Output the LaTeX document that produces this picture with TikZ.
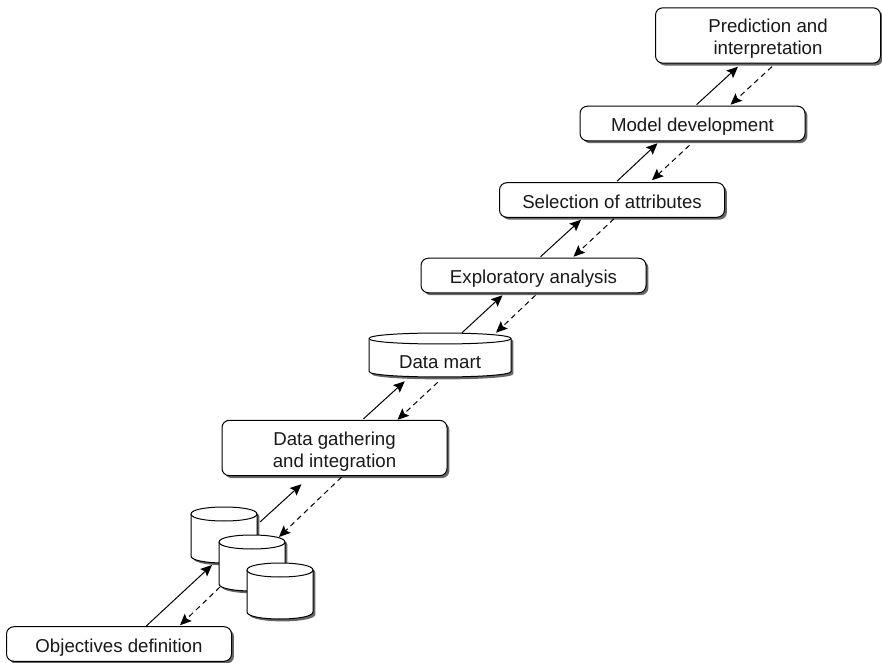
\documentclass[tikz,border=0pt]{standalone}
\usepackage{fontspec}
\setmainfont{Liberation Sans}
\usetikzlibrary{arrows.meta,shadows,calc}
\newcommand{\dn}[1]{\raisebox{-2.5pt}[10pt][3pt]{#1}}
% body outline of a cylinder: centre x, top y, bottom y, radii (all in picture units)
\newcommand{\bodypath}[5]{%
  (#1-#4,#2+#5) -- (#1-#4,#3-#5)
  .. controls (#1-#4,#3+#5*0.333) and (#1+#4,#3+#5*0.333) .. (#1+#4,#3-#5)
  -- (#1+#4,#2+#5)
  .. controls (#1+#4,#2-#5*0.333) and (#1-#4,#2-#5*0.333) .. cycle}
\newcommand{\storeshape}[5]{%
  \fill[black!60,shift={(2.4,2.4)}] \bodypath{#1}{#2}{#3}{#4}{#5};
  \draw[storeline] \bodypath{#1}{#2}{#3}{#4}{#5};
  \draw[storeline] (#1-#4,#2+#5)
  .. controls (#1-#4,#2+#5*2.333) and (#1+#4,#2+#5*2.333) .. (#1+#4,#2+#5);
}
\tikzset{
  x=0.75pt,y=-0.75pt,
  shade drop/.style={drop shadow={shadow xshift=1.8pt,shadow yshift=-1.8pt,fill=black!60,opacity=1}},
  labelfont/.style={font=\fontsize{14}{16.5}\selectfont,text=black!90},
  stagebox/.style={draw=black,line width=0.75pt,fill=white,rounded corners=5.5pt,shade drop,
    minimum width=168.75pt,inner sep=0pt,align=center,labelfont},
  low/.style={stagebox,minimum height=25.9pt},
  tall/.style={stagebox,minimum height=41.5pt},
  storeline/.style={draw=black,line width=0.75pt,fill=white},
  smallstore/.style={inner sep=0pt,minimum width=49.5pt,minimum height=42pt},
  forward/.style={line width=0.75pt,-{Stealth[length=8.5pt,width=7.5pt,inset=1.5pt]}},
  back/.style={forward,dash pattern=on 4pt off 3pt},
}
\begin{document}
\begin{tikzpicture}
\useasboundingbox (0,0) rectangle (882,663);
\node[low]  (obj)  at (119,644) {\dn{Objectives definition}};
\storeshape{224}{507}{563}{33}{7}
\node[smallstore] (c1) at (224,535) {};
\storeshape{252}{535}{591}{33}{7}
\node[smallstore] (c2) at (252,563) {};
\storeshape{280}{563}{619}{33}{7}
\node[smallstore] (c3) at (280,591) {};
\node[tall] (gath) at (334.5,448) {\dn{Data gathering}\\\dn{and integration}};
\storeshape{440}{333}{377}{71}{5.5}
\node[labelfont,inner sep=0pt,minimum width=106.5pt,minimum height=24.75pt] (mart) at (440,360.5) {\dn{Data mart}};
\node[low]  (expl) at (533.5,275.5) {\dn{Exploratory analysis}};
\node[low]  (sel)  at (612,200) {\dn{Selection of attributes}};
\node[low]  (mod)  at (692.5,123.5) {\dn{Model development}};
\node[tall] (pred) at (768,35.5) {\dn{Prediction and}\\\dn{interpretation}};

\draw[forward] ($(obj.north west)+(140,0)$) -- ($(c2.center)+(-40,2)$);
\draw[back]    ($(c2.center)+(-32,24)$) -- ($(obj.north west)+(174,-1)$);
\draw[forward] ($(c1.center)+(36,-13)$) -- ($(gath.south west)+(80,8)$);
\draw[back]    ($(gath.south west)+(120,1)$) -- ($(c2.center)+(27,-26)$);
\draw[forward] ($(gath.north west)+(142,-1)$) -- ($(mart.south west)+(36,4)$);
\draw[back]    ($(mart.south west)+(69,5)$) -- ($(gath.north west)+(176,0)$);
\draw[forward] ($(mart.north)+(22,-11)$) -- ($(expl.south west)+(82,2)$);
\draw[back]    ($(expl.south west)+(115,2)$) -- ($(mart.north)+(56,-11)$);
\draw[forward] ($(expl.north west)+(120,-1)$) -- ($(sel.south west)+(82,2)$);
\draw[back]    ($(sel.south west)+(115,1)$) -- ($(expl.north west)+(153,-1)$);
\draw[forward] ($(sel.north west)+(118,-1)$) -- ($(mod.south west)+(78,2)$);
\draw[back]    ($(mod.south west)+(110,4)$) -- ($(sel.north west)+(153,-2)$);
\draw[forward] ($(mod.north west)+(117,-1)$) -- ($(pred.south west)+(83,3)$);
\draw[back]    ($(pred.south west)+(117,3)$) -- ($(mod.north west)+(151,-1)$);
\end{tikzpicture}
\end{document}
